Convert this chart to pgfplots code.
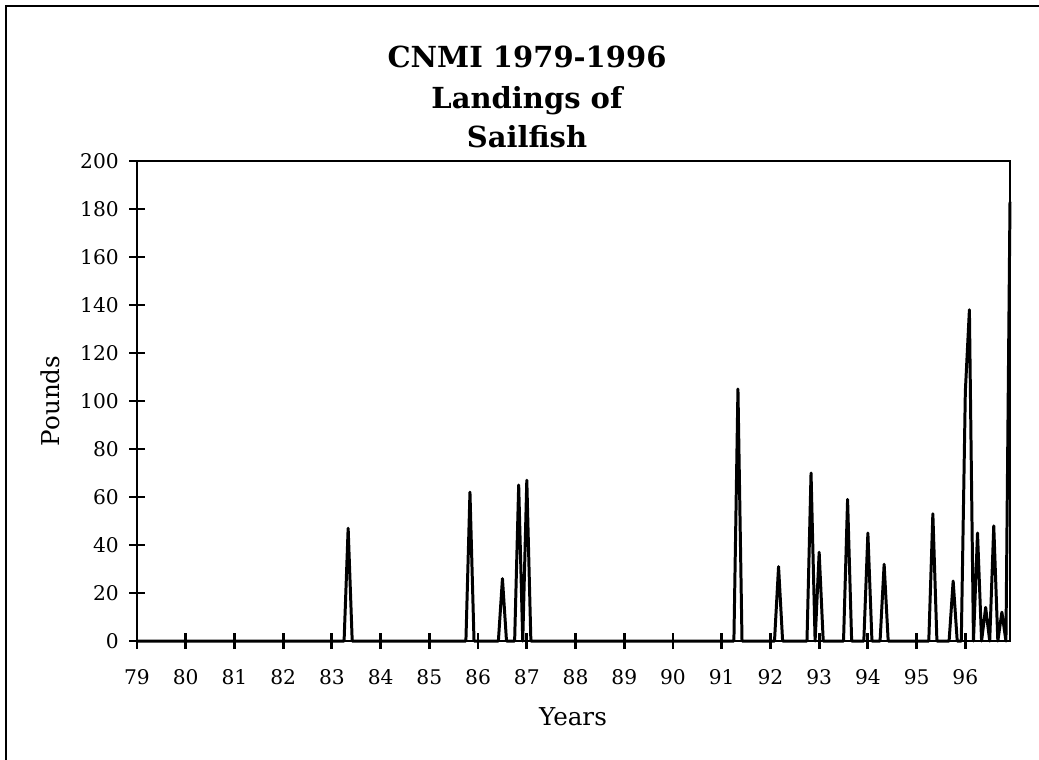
\documentclass[border=0pt]{standalone}
\usepackage{pgfplots}
\pgfplotsset{compat=1.18}
\usepackage{fontspec}
\setmainfont{DejaVu Serif}
\begin{document}
\begin{tikzpicture}
\useasboundingbox (0,0) rectangle (20.78,-15.18);
\draw[line width=1.2pt] (0.12,-0.12) rectangle (25,-20);
\node[font=\fontsize{16.5}{19}\selectfont\bfseries, anchor=base] at (10.54,-1.34) {CNMI 1979-1996};
\node[font=\fontsize{16.5}{19}\selectfont\bfseries, anchor=base] at (10.54,-2.16) {Landings of};
\node[font=\fontsize{16.5}{19}\selectfont\bfseries, anchor=base] at (10.54,-2.94) {Sailfish};
\node[font=\fontsize{14}{17}\selectfont, anchor=base, rotate=90] at (1.18,-8.02) {Pounds};
\node[font=\fontsize{14}{17}\selectfont, anchor=base] at (11.46,-14.5) {Years};
\begin{axis}[
  at={(2.74cm,-12.82cm)}, anchor=south west,
  scale only axis, width=17.46cm, height=9.6cm,
  xmin=0, xmax=215, ymin=0, ymax=200,
  xtick={0,12,24,36,48,60,72,84,96,108,120,132,144,156,168,180,192,204},
  xticklabels={79,80,81,82,83,84,85,86,87,88,89,90,91,92,93,94,95,96},
  ytick={0,20,40,60,80,100,120,140,160,180,200},
  xtick pos=bottom, ytick pos=left,
  tick align=center, major tick length=0.32cm,
  every tick/.style={black, line width=1.6pt},
  axis line style={black, line width=1.1pt},
  /pgf/number format/assume math mode=true,
  ticklabel style={font=\fontsize{11.5}{14}\selectfont},
  xticklabel style={yshift=-0.28cm},
  yticklabel style={xshift=-0.08cm},
  clip=false,
]
\draw[line width=1.7pt] (rel axis cs:0,0) -- (rel axis cs:0,1);
\addplot[black, line width=1.7pt, line join=round] coordinates {
(0,0)(51,0)(52,47)(53,0)(81,0)(82,62)(83,0)(89,0)(90,26)(91,0)(93,0)(94,65)(95,0)(96,67)(97,0)
(147,0)(148,105)(149,0)(157,0)(158,31)(159,0)(165,0)(166,70)(167,0)(168,37)(169,0)(174,0)(175,59)(176,0)
(179,0)(180,45)(181,0)(183,0)(184,32)(185,0)(195,0)(196,53)(197,0)(200,0)(201,25)(202,0)(203,0)
(204,104)(205,138)(206,0)(207,45)(208,0)(209,14)(210,0)(211,48)(212,0)(213,12)(214,0)(215,183)
};
\end{axis}
\end{tikzpicture}
\end{document}
